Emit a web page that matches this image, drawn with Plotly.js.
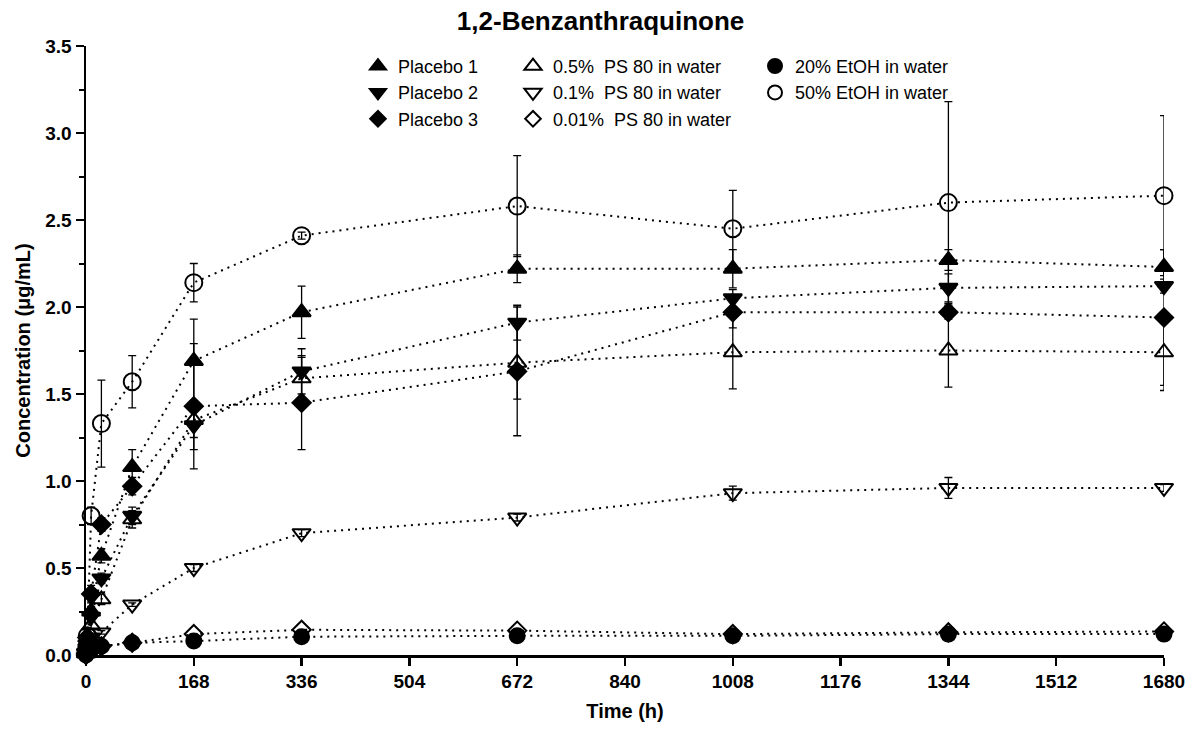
<!DOCTYPE html>
<html>
<head>
<meta charset="utf-8">
<script src="https://cdn.plot.ly/plotly-3.0.1.min.js"></script>
<style>html,body{margin:0;padding:0;background:#fff;}#chart{width:1194px;height:731px;}</style>
</head>
<body>
<div id="chart"></div>
<script>
var time = [0, 2, 8, 24, 72, 168, 336, 672, 1008, 1344, 1680];
var xTicks = [0, 168, 336, 504, 672, 840, 1008, 1176, 1344, 1512, 1680];
var yTicks = [0, 0.5, 1.0, 1.5, 2.0, 2.5, 3.0, 3.5];

var seriesNames = ["Placebo 1", "Placebo 2", "Placebo 3",
  "0.5%  PS 80 in water", "0.1%  PS 80 in water", "0.01%  PS 80 in water",
  "20% EtOH in water", "50% EtOH in water"];

var placebo1 = [0.01, 0.08, 0.25, 0.57, 1.08, 1.69, 1.97, 2.22, 2.22, 2.27, 2.23];
var placebo1Err = [0, 0.02, 0.03, 0.04, 0.10, 0.24, 0.15, 0.08, 0.11, 0.06, 0.10];
var placebo2 = [0.01, 0.06, 0.22, 0.44, 0.80, 1.32, 1.63, 1.91, 2.05, 2.11, 2.12];
var placebo2Err = [0, 0.02, 0.03, 0.03, 0.05, 0.14, 0.13, 0.10, 0.05, 0.08, 0.04];
var placebo3 = [0.01, 0.10, 0.35, 0.75, 0.97, 1.43, 1.45, 1.63, 1.97, 1.97, 1.94];
var placebo3Err = [0, 0.02, 0.05, 0.04, 0.05, 0.36, 0.27, 0.37, 0.09, 0.04, 0.39];
var ps05 = [0.01, 0.05, 0.17, 0.32, 0.78, 1.35, 1.59, 1.68, 1.74, 1.75, 1.74];
var ps05Err = [0, 0.01, 0.02, 0.03, 0.05, 0.10, 0.12, 0.21, 0.21, 0.21, 0.22];
var ps01 = [0.01, 0.03, 0.10, 0.13, 0.29, 0.50, 0.70, 0.79, 0.93, 0.96, 0.96];
var ps01Err = [0, 0, 0.01, 0.01, 0.01, 0.02, 0.02, 0.02, 0.04, 0.06, 0.02];
var ps001 = [0.0, 0.02, 0.04, 0.05, 0.07, 0.12, 0.145, 0.14, 0.12, 0.13, 0.135];
var ps001Err = [0, 0, 0, 0, 0, 0, 0, 0, 0, 0, 0];
var etoh20 = [0.0, 0.02, 0.03, 0.05, 0.07, 0.08, 0.105, 0.11, 0.11, 0.12, 0.12];
var etoh20Err = [0, 0, 0, 0, 0, 0, 0, 0, 0, 0, 0];
var etoh50 = [0.02, 0.11, 0.80, 1.33, 1.57, 2.14, 2.41, 2.58, 2.45, 2.60, 2.64];
var etoh50Err = [0, 0.02, 0.05, 0.25, 0.15, 0.11, 0.02, 0.29, 0.22, 0.58, 0.46];

var values = [placebo1, placebo2, placebo3, ps05, ps01, ps001, etoh20, etoh50];
var errors = [placebo1Err, placebo2Err, placebo3Err, ps05Err, ps01Err, ps001Err, etoh20Err, etoh50Err];
var symbols = ["triangle-up", "triangle-down", "diamond", "triangle-up-open", "triangle-down-open", "diamond-open", "circle", "circle-open"];
var legendIds = ["legend", "legend", "legend", "legend2", "legend2", "legend2", "legend3", "legend3"];
var sizes = [16, 16, 14, 16, 16, 14, 15, 17];
var legSizes = [14, 14, 12, 15, 15, 12, 14, 14];

var traces = [];
for (var i = 0; i < values.length; i++) {
  traces.push({
    type: "scatter",
    mode: "lines+markers",
    name: seriesNames[i],
    showlegend: false,
    x: time,
    y: values[i],
    cliponaxis: false,
    line: {color: "#000", width: 2, dash: "2px,5px"},
    marker: {symbol: symbols[i], size: sizes[i], color: "#000", line: {color: "#000", width: 2}},
    error_y: {type: "data", array: errors[i], visible: true, color: "#000", thickness: 1.3, width: 4}
  });
}
// legend-only entries (markers without lines)
for (var j = 0; j < values.length; j++) {
  traces.push({
    type: "scatter",
    mode: "markers",
    name: seriesNames[j],
    legend: legendIds[j],
    showlegend: true,
    x: [null],
    y: [null],
    marker: {symbol: symbols[j], size: legSizes[j], color: "#000", line: {color: "#000", width: 2}}
  });
}

var fam = "Liberation Sans, Arial, sans-serif";
var legFont = {family: fam, size: 18, color: "#000"};
function leg(x) {
  return {x: x, y: 0.997, xanchor: "left", yanchor: "top", font: legFont,
          bgcolor: "rgba(0,0,0,0)", tracegroupgap: 0, itemsizing: "trace"};
}
var layout = {
  width: 1194, height: 731,
  paper_bgcolor: "#fff", plot_bgcolor: "#fff",
  margin: {l: 86, r: 30, t: 46, b: 76},
  title: {text: "<b>1,2-Benzanthraquinone</b>", x: 0.503, xref: "container", xanchor: "center", y: 0.972, yanchor: "middle",
          font: {family: fam, size: 26, color: "#000"}},
  showlegend: true,
  legend: leg(0.2523),
  legend2: leg(0.3961),
  legend3: leg(0.6206),
  xaxis: {
    range: [0, 1680], tickvals: xTicks, ticktext: xTicks.map(String),
    showline: true, linecolor: "#000", linewidth: 2.5,
    ticks: "outside", ticklen: 8, tickwidth: 2.5, tickcolor: "#000",
    showgrid: false, zeroline: false,
    tickfont: {family: fam, size: 19, color: "#000", weight: "bold"},
    title: {text: "<b>Time (h)</b>", standoff: 13, font: {family: fam, size: 20, color: "#000"}}
  },
  yaxis: {
    range: [0, 3.5], tickvals: yTicks, ticktext: yTicks.map(function(v){return v.toFixed(1);}),
    showline: true, linecolor: "#000", linewidth: 2.5,
    ticks: "outside", ticklen: 8, tickwidth: 2.5, tickcolor: "#000",
    minor: {dtick: 0.25, ticks: "outside", ticklen: 5, tickwidth: 2, tickcolor: "#000", showgrid: false},
    showgrid: false, zeroline: false,
    tickfont: {family: fam, size: 19, color: "#000", weight: "bold"},
    title: {text: "<b>Concentration (μg/mL)</b>", standoff: 10, font: {family: fam, size: 20, color: "#000"}}
  }
};

Plotly.newPlot("chart", traces, layout, {displayModeBar: false, staticPlot: true});
</script>
</body>
</html>
